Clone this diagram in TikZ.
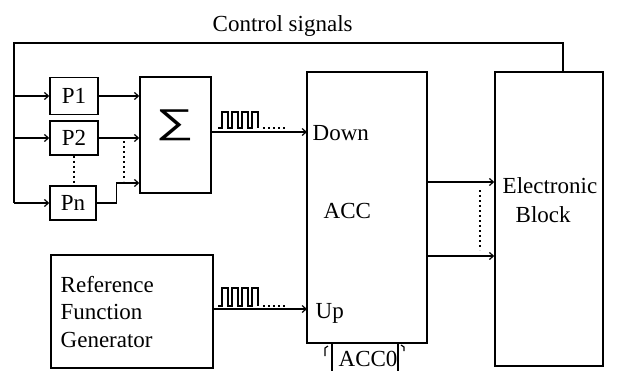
\documentclass[tikz,border=0pt]{standalone}
\usepackage{fontspec}
\setmainfont{Liberation Serif}
\newfontfamily\symfont{Liberation Sans}
\usetikzlibrary{arrows.meta,calc}
\begin{document}
\begin{tikzpicture}[x=1pt,y=-1pt,line width=1.4pt,
  blk/.style={draw,inner sep=0pt,font=\fontsize{23}{27}\selectfont},
  lbl/.style={inner sep=0pt,font=\fontsize{23}{27}\selectfont},
  arr/.style={-{Straight Barb[length=4pt,width=7pt,line width=1.2pt]}},
  dotl/.style={line width=1.6pt,dash pattern=on 2pt off 3pt},
  pulse/.style={line width=1.2pt}]
\fill[white] (0,0) rectangle (632,370);
\useasboundingbox (0,0) rectangle (632,370);

% blocks
\node[blk,minimum width=48,minimum height=37] (P1) at (74,96) {P1};
\node[blk,minimum width=48,minimum height=34] (P2) at (74,138) {P2};
\node[blk,minimum width=46,minimum height=34] (Pn) at (73,203) {Pn};
\node[blk,minimum width=71,minimum height=116] (sum) at (175.5,135) {};
\node[inner sep=0pt] (sg) at (174.5,125.5) {\resizebox*{38pt}{31pt}{\symfont ∑}};
\node[blk,minimum width=120,minimum height=271] (ACC) at (367,207.5) {};
\node[blk,minimum width=108,minimum height=294] (EB) at (549,219) {};
\node[blk,minimum width=162,minimum height=113] (RF) at (132,311.5) {};
\node[blk,minimum width=66,minimum height=40] (A0) at (365,363) {};

% labels
\node[lbl,anchor=base west] (tctl) at (212,31) {Control signals};
\node[lbl,anchor=base west] (tdn) at (312,140) {Down};
\node[lbl,anchor=base west] (tacc) at (323,218) {ACC};
\node[lbl,anchor=base west] (tup) at (315,318) {Up};
\node[lbl,anchor=base west] (ta0) at (338,366) {ACC0};
\node[lbl,anchor=base west] (te1) at (502,193) {Electronic};
\node[lbl,anchor=base west] (te2) at (515,222) {Block};
\node[lbl,anchor=base west] (tr1) at (60,292) {Reference};
\node[lbl,anchor=base west] (tr2) at (60,319) {Function};
\node[lbl,anchor=base west] (tr3) at (60,347) {Generator};

% control bus
\coordinate (busT) at (14,43);
\coordinate (ctl) at (563,43);
\draw (EB.north -| ctl) -- (ctl) -- (busT) -- (busT |- Pn.west);
\draw[arr] (busT |- P1.west) -- (P1.west);
\draw[arr] (busT |- P2.west) -- (P2.west);
\draw[arr] (busT |- Pn.west) -- (Pn.west);

% P blocks to sum
\coordinate (sPn) at ($(sum.west)+(0,48)$);
\draw[arr] (P1.east) -- (P1.east -| sum.west);
\draw[arr] (P2.east) -- (P2.east -| sum.west);
\draw[arr] (Pn.east) -- ++(20,0) |- (sPn);
\draw[dotl] (P2.south) -- (P2.south |- Pn.north);
\coordinate (d1) at (124,141);
\coordinate (d2) at (124,181);
\draw[dotl] (d1) -- (d2);

% sum -> ACC Down
\coordinate (dn) at (307,132);
\draw[arr] (sum.east |- dn) -- (dn);
\draw[pulse] (218,128) foreach \i in {0,1,2,3} { -- ++(4,0) -- ++(0,-16) -- ++(6,0) -- ++(0,16) };
\coordinate (p1a) at (263,128);
\coordinate (p1b) at (285,128);
\draw[dotl] (p1a) -- (p1b);

% reference -> ACC Up
\coordinate (up) at (307,309);
\draw[arr] (RF.east |- up) -- (up);
\draw[pulse] (218,306) foreach \i in {0,1,2,3} { -- ++(4,0) -- ++(0,-18) -- ++(6,0) -- ++(0,18) };
\coordinate (p2a) at (263,306);
\coordinate (p2b) at (285,306);
\draw[dotl] (p2a) -- (p2b);

% ACC -> Electronic block
\coordinate (o1) at (427,182);
\coordinate (o2) at (427,256);
\draw[arr] (o1) -- (o1 -| EB.west);
\draw[arr] (o2) -- (o2 -| EB.west);
\coordinate (d3) at (480,190);
\coordinate (d4) at (480,250);
\draw[dotl] (d3) -- (d4);

% small hooks at ACC0
\coordinate (h1) at (325,356);
\coordinate (h2) at (404,351);
\draw[line width=1.2pt] (h1) -- ++(0,-8) -- ++(3,-2);
\draw[line width=1.2pt] (h2) -- ++(0,-4) -- ++(-3,-2);
\end{tikzpicture}
\end{document}
